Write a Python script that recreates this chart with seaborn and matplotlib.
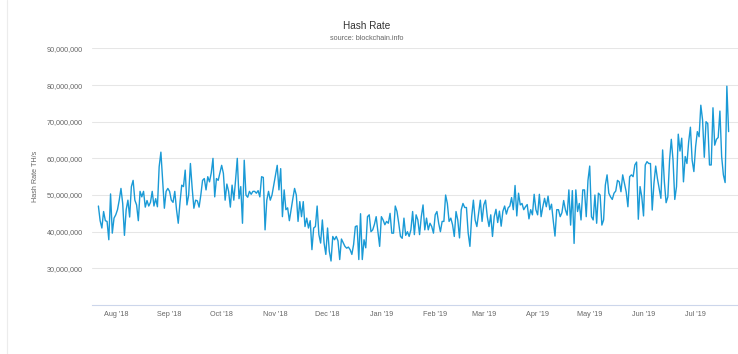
import numpy as np
import pandas as pd
import matplotlib
matplotlib.use('Agg')
import matplotlib.pyplot as plt
from matplotlib.ticker import FuncFormatter
from matplotlib.lines import Line2D
import seaborn as sns

# ── Data: daily hash rate in millions of TH/s ────────────────────────────────
start_date = '2018-07-22'

hash_jul_aug_18 = [47, 43, 41, 45.5, 43, 42.8, 37.8, 50.3, 39.6, 43.7,
                   44.6, 46, 48.6, 51.8, 47.7, 39, 46, 48.6, 44, 52.3,
                   54, 48.6, 47.3, 43, 51, 49.5, 51, 46.7, 48.5, 47,
                   48, 51, 47, 49, 46.8, 57.7, 61.7, 54, 46.4, 51,
                   51.8, 51, 48.6, 48]
hash_sep_oct_18 = [51, 46, 42.3, 48, 52.7, 52.3, 56.8, 47.3, 50, 58.6,
                   52, 46.4, 48.6, 48.4, 46.7, 50, 54, 54.5, 51.4, 55,
                   53.6, 56, 60, 49.5, 54.5, 54, 56, 58.1, 55.9, 48.6,
                   53, 51, 46.7, 52.7, 48.6, 54, 60, 49, 52.3, 42.3,
                   59.5, 50, 49.4, 51, 50.2, 51]
hash_oct_nov_18 = [51, 50.5, 51.2, 49.5, 55, 54.8, 40.5, 48.6, 51, 48.6,
                   50, 52.7, 55.5, 58.1, 51.4, 57.2, 44.1, 51.4, 46, 46.5,
                   43, 46, 49, 51.8, 50, 42.8, 48.2, 44.1, 48.2, 41.4,
                   43.7, 41, 43, 35.1, 41, 41.4, 47, 39.2, 36.9, 43.2,
                   36.9, 33.8, 41, 34.7, 32, 38.7, 37.8]
hash_dec_18_jan_19 = [38.7, 37.5, 32.4, 38, 37, 36, 35.5, 35.8, 35.1, 33.8,
                      36.5, 41.4, 41.6, 32.4, 44.9, 32.4, 37.8, 35.6, 44.1, 44.6,
                      40, 40.5, 42, 44.1, 40, 36, 44.1, 43.2, 41.9, 42.8,
                      42.3, 45, 39.6, 39.6, 47, 45.5, 42.3, 38.7, 38.2, 43.7,
                      39, 40, 38.7, 40.5, 45.5]
hash_feb_mar_19 = [39.2, 44.6, 43.2, 39.2, 44.1, 47.3, 40.5, 43.7, 40.5, 42.3,
                   41.4, 39.6, 44.6, 45.5, 42.3, 40, 42.8, 42.8, 50, 47.7,
                   42.8, 43.7, 41.9, 38.7, 45.5, 43.2, 38.3, 46, 47.7, 46.6,
                   46.6, 39.6, 36, 44.1, 48.6, 43.2, 41.4, 45, 48.6, 42.8,
                   47.3, 48.6, 44.1, 41.4, 44.6, 38.7, 44.1]
hash_apr_may_19 = [46.1, 42.5, 45.6, 41.5, 45.6, 47, 44.8, 46.5, 47, 49.3,
                   46, 52.6, 44.3, 50.5, 47.3, 47.7, 46, 46.8, 47.4, 43.5,
                   46, 44.6, 50.2, 46, 44.6, 50.2, 44.1, 46.8, 49.1, 46.8,
                   49.7, 46, 47.5, 43, 38.8, 46, 46, 44.1, 45.2, 48.5,
                   46, 44.5]
hash_may_jul_19 = [51.4, 41.8, 51.2, 36.8, 51.4, 45.5, 47.7, 43.2, 51.4, 51.4,
                   44.1, 54, 57.9, 44.1, 43.2, 50, 42.3, 50.5, 50, 41.8,
                   43.2, 52.7, 55.5, 50.5, 49.5, 48.8, 50.5, 51.1, 54, 53.6,
                   50.9, 55.5, 53.2, 50.9, 46.8, 55, 55.5, 55, 58.2, 59,
                   43.4, 52.3, 49.5, 44.3, 58.2, 59.1, 58.6, 58.6, 45.9, 53.2,
                   57.9, 54.5, 51.8, 49.1, 62.3, 53.6, 47.9, 49.5, 59.5, 65.2,
                   59.5, 48.8, 52.3, 66.6, 62, 65.5, 53.6, 60.5, 58.6, 64.5,
                   68.5, 59.5, 56.4, 63.2, 67.3, 65.9, 74.5, 70.5, 60.3, 70,
                   69.5, 58.2, 58.2, 73.8, 63.6, 65.2, 65.7, 72.9, 60.5, 55.5,
                   53.4, 79.7, 67.3]

month_ticks = ['2018-08-01', '2018-09-01', '2018-10-01', '2018-11-01',
               '2018-12-01', '2019-01-01', '2019-02-01', '2019-03-01',
               '2019-04-01', '2019-05-01', '2019-06-01', '2019-07-01']
month_labels = ["Aug '18", "Sep '18", "Oct '18", "Nov '18", "Dec '18", "Jan '19",
                "Feb '19", "Mar '19", "Apr '19", "May '19", "Jun '19", "Jul '19"]
y_ticks = [30e6, 40e6, 50e6, 60e6, 70e6, 80e6, 90e6]

values = np.concatenate([hash_jul_aug_18, hash_sep_oct_18, hash_oct_nov_18,
                         hash_dec_18_jan_19, hash_feb_mar_19, hash_apr_may_19,
                         hash_may_jul_19]) * 1e6
dates = pd.date_range(start_date, periods=len(values), freq='D')
df = pd.DataFrame({'date': dates, 'hash_rate': values})

# ── Style ────────────────────────────────────────────────────────────────────
sns.set_style('white')
plt.rcParams['font.family'] = ['Liberation Sans', 'DejaVu Sans']

fig = plt.figure(figsize=(7.38, 3.54), dpi=100)
ax = fig.add_axes([0.1247, 0.1384, 0.8753, 0.7249])

for y in y_ticks:
    ax.axhline(y, color='#e6e6e6', linewidth=0.75, zorder=0)

sns.lineplot(data=df, x='date', y='hash_rate', ax=ax,
             color='#1a9ad6', linewidth=1.0)

ax.set_ylim(20e6, 90e6)
ax.set_xlim(pd.Timestamp('2018-07-18 08:00'), pd.Timestamp('2019-07-25 10:00'))

ax.set_yticks(y_ticks)
ax.yaxis.set_major_formatter(FuncFormatter(lambda v, p: f'{v:,.0f}'))
ax.set_xticks(pd.to_datetime(month_ticks))
ax.set_xticklabels(month_labels)

for side in ['top', 'right', 'left']:
    ax.spines[side].set_visible(False)
ax.spines['bottom'].set_color('#ccd6eb')
ax.spines['bottom'].set_linewidth(0.8)

ax.tick_params(axis='y', length=0, pad=6.5, labelsize=5.2, labelcolor='#666666')
ax.tick_params(axis='x', length=3, width=0.7, color='#ccd6eb', pad=1.5,
               labelsize=5.2, labelcolor='#666666')

ax.set_xlabel('')
ax.set_ylabel('Hash Rate TH/s', fontsize=5.2, color='#666666')
ax.yaxis.set_label_coords(-0.082, 0.5)

fig.text(0.497, 0.926, 'Hash Rate', ha='center', va='center',
         fontsize=7.2, color='#333333')
fig.text(0.497, 0.892, 'source: blockchain.info', ha='center', va='center',
         fontsize=5.2, color='#666666')

# faint page border on the left
fig.add_artist(Line2D([0.0095, 0.0095], [0, 1], transform=fig.transFigure,
                      color='#ececec', linewidth=0.8))

fig.savefig('out.png', dpi=100)
plt.close(fig)
